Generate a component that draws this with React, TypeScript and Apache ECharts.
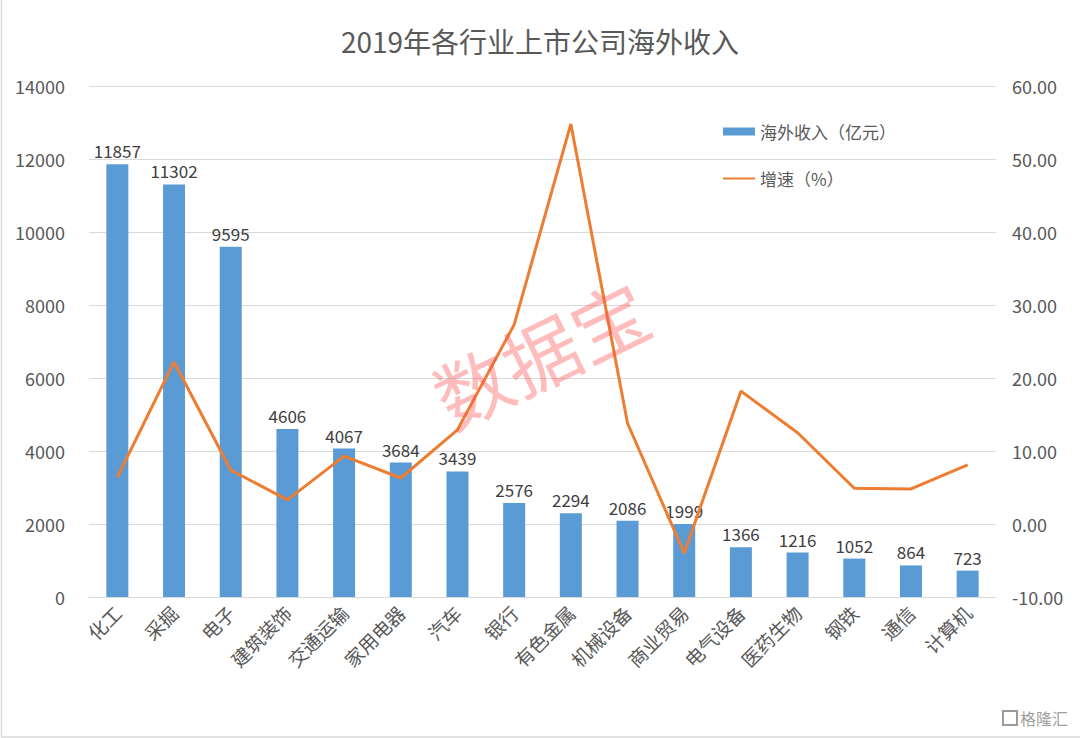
import React, { useEffect, useRef } from "react";
import * as echarts from "echarts";

const categories = ["化工", "采掘", "电子", "建筑装饰", "交通运输", "家用电器", "汽车", "银行", "有色金属", "机械设备", "商业贸易", "电气设备", "医药生物", "钢铁", "通信", "计算机"];
const revenue = [11857, 11302, 9595, 4606, 4067, 3684, 3439, 2576, 2294, 2086, 1999, 1366, 1216, 1052, 864, 723];
const growth = [6.4, 22.2, 7.4, 3.3, 9.3, 6.3, 12.9, 27.3, 54.8, 13.8, -4.0, 18.2, 12.5, 4.9, 4.8, 8.1];
const leftTicks = { min: 0, max: 14000, interval: 2000 };
const rightTicks = { min: -10, max: 60, interval: 10 };

const FONT = "'Noto Sans CJK SC', 'Noto Sans', sans-serif";

export default function App() {
  const ref = useRef<HTMLDivElement>(null);
  useEffect(() => {
    if (!ref.current) return;
    const chart = echarts.init(ref.current, null, { renderer: "svg" });
    chart.setOption({
      animation: false,
      backgroundColor: "#ffffff",
      textStyle: { fontFamily: FONT },
      title: {
        text: "2019年各行业上市公司海外收入",
        left: "center",
        top: 22,
        textStyle: { fontSize: 28, fontWeight: "normal", color: "#595959", fontFamily: FONT },
      },
      legend: {
        orient: "vertical",
        left: 718,
        top: 118,
        itemGap: 30,
        itemWidth: 32,
        itemHeight: 8,
        textStyle: { fontSize: 17, color: "#595959", fontFamily: FONT },
        data: [
          { name: "海外收入（亿元）", icon: "rect" },
          { name: "增速（%）", icon: "path://M0,3 L32,3 L32,5 L0,5 Z" },
        ],
      },
      grid: { left: 89, right: 84, top: 86, bottom: 141, containLabel: false },
      xAxis: {
        type: "category",
        data: categories,
        axisLine: { lineStyle: { color: "#d9d9d9" } },
        axisTick: { show: false },
        axisLabel: { rotate: 45, fontSize: 19, color: "#595959", margin: 12, interval: 0, fontFamily: FONT },
      },
      yAxis: [
        {
          type: "value",
          min: leftTicks.min,
          max: leftTicks.max,
          interval: leftTicks.interval,
          axisLine: { show: false },
          axisTick: { show: false },
          splitLine: { lineStyle: { color: "#d9d9d9" } },
          axisLabel: {
            fontSize: 18,
            color: "#595959",
            margin: 24,
            fontFamily: FONT,
            formatter: (v: number) => String(v),
          },
        },
        {
          type: "value",
          min: rightTicks.min,
          max: rightTicks.max,
          interval: rightTicks.interval,
          axisLine: { show: false },
          axisTick: { show: false },
          splitLine: { show: false },
          axisLabel: {
            fontSize: 18,
            color: "#595959",
            margin: 16,
            fontFamily: FONT,
            formatter: (v: number) => v.toFixed(2),
          },
        },
      ],
      series: [
        {
          name: "海外收入（亿元）",
          type: "bar",
          data: revenue,
          barWidth: 22,
          itemStyle: { color: "#5b9bd5" },
          label: { show: true, position: "top", fontSize: 17, color: "#404040", distance: 5, fontFamily: FONT },
        },
        {
          name: "增速（%）",
          type: "line",
          yAxisIndex: 1,
          data: growth,
          symbol: "none",
          lineStyle: { color: "#ed7d31", width: 3 },
          itemStyle: { color: "#ed7d31" },
        },
      ],
      graphic: [
        {
          type: "rect",
          shape: { x: 1.5, y: -10, width: 1100, height: 747 },
          style: { fill: "none", stroke: "#d9d9d9", lineWidth: 1.5 },
          silent: true,
        },
        {
          type: "text",
          x: 540,
          y: 352,
          rotation: (26 * Math.PI) / 180,
          style: {
            text: "数据宝",
            fontSize: 76,
            fill: "rgba(255,80,80,0.38)",
            fontFamily: FONT,
            align: "center",
            verticalAlign: "middle",
          },
          z: 100,
        },
        {
          type: "rect",
          shape: { x: 1003, y: 711, width: 14, height: 14 },
          style: { fill: "none", stroke: "#9a9a9a", lineWidth: 2 },
        },
        {
          type: "text",
          x: 1020,
          y: 718,
          style: {
            text: "格隆汇",
            fontSize: 16,
            fill: "#a0a0a0",
            fontFamily: FONT,
            verticalAlign: "middle",
          },
        },
      ],
    });
    return () => chart.dispose();
  }, []);
  return <div ref={ref} style={{ width: 1080, height: 738, position: "absolute", left: 0, top: 0 }} />;
}
